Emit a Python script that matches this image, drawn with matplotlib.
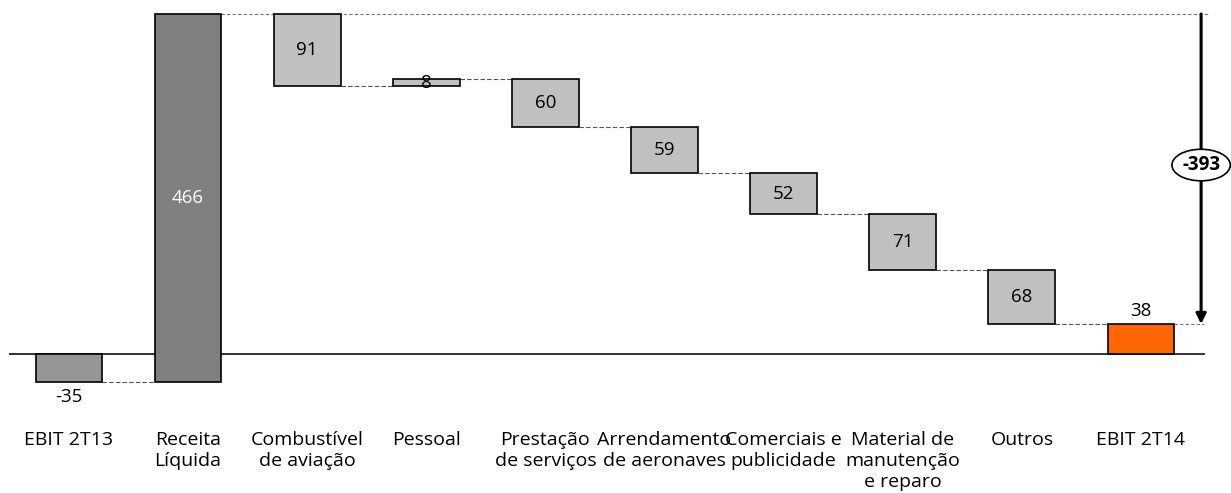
import numpy as np
import matplotlib.pyplot as plt
from matplotlib.patches import Ellipse

plt.rcParams['font.family'] = ['Open Sans', 'DejaVu Sans']

categorias = ["EBIT 2T13", "Receita\nLíquida", "Combustível\nde aviação", "Pessoal",
              "Prestação\nde serviços", "Arrendamento\nde aeronaves", "Comerciais e\npublicidade",
              "Material de\nmanutenção\ne reparo", "Outros", "EBIT 2T14"]
variacao = [-35, 466, -91, 8, -60, -59, -52, -71, -68, 38]
rotulos = ["-35", "466", "91", "8", "60", "59", "52", "71", "68", "38"]
cores = ["#969696", "#808080"] + ["#c0c0c0"] * 7 + ["#ff6600"]
total_var = -393

n = len(variacao)
base = np.zeros(n)
topo = np.zeros(n)
nivel = 0
for i in range(n):
    if i == 0 or i == n - 1:
        base[i] = 0
        topo[i] = variacao[i]
        nivel = variacao[i]
    else:
        base[i] = nivel
        nivel = nivel + variacao[i]
        topo[i] = nivel
fim = topo  # nivel depois de cada passo

fig = plt.figure(figsize=(12.31, 4.93), dpi=100)
ax = fig.add_axes([0, 0, 1, 1])
ax.set_xlim(-0.579, 9.756)
ax.set_ylim(-176.2, 448.7)
ax.axis('off')

fs = 13.5
x = np.arange(n)
w = 0.56
ax.bar(x, topo - base, bottom=base, width=w, color=cores, edgecolor='black', linewidth=1.2, zorder=3)

# linha do zero
ax.plot([-0.495, 9.53], [0, 0], color='#333333', lw=1.4, zorder=2)

# conectores tracejados
for i in range(n - 1):
    if i == 1:
        continue
    ax.plot([x[i] + w / 2, x[i + 1] - w / 2], [fim[i], fim[i]], color='#555555', lw=0.8, dashes=(4, 2), zorder=1)
ax.plot([x[1] + w / 2, 9.56], [fim[1], fim[1]], color='#777777', lw=0.8, dashes=(3, 2), zorder=1)
ax.plot([x[-1] + w / 2, 9.53], [fim[-1], fim[-1]], color='#777777', lw=0.8, dashes=(3, 2), zorder=1)

# rotulos de valores
for i in range(n):
    if i == 0:
        ax.text(x[i], base[i] + variacao[i] - 20, rotulos[i], ha='center', va='center', fontsize=fs)
    elif i == n - 1:
        ax.text(x[i], topo[i] + 17, rotulos[i], ha='center', va='center', fontsize=fs)
    elif i == 1:
        ax.text(x[i], (base[i] + topo[i]) / 2, rotulos[i], ha='center', va='center', fontsize=fs, color='white')
    else:
        ax.text(x[i], (base[i] + topo[i]) / 2, rotulos[i], ha='center', va='center', fontsize=fs)

# categorias
for i in range(n):
    ax.text(x[i], -98, categorias[i], ha='center', va='top', fontsize=14, linespacing=1.22)

# seta da variacao total
xs = 9.505
ax.annotate("", xy=(xs, fim[-1]), xytext=(xs, fim[1]),
            arrowprops=dict(arrowstyle='-|>', color='black', lw=2.2, mutation_scale=15, shrinkA=0, shrinkB=0))
ym = (fim[1] + fim[-1]) / 2 + 5
ax.add_patch(Ellipse((xs, ym), 0.49, 40, facecolor='white', edgecolor='black', lw=1.2, zorder=5))
ax.text(xs, ym, str(total_var), ha='center', va='center', fontsize=fs, fontweight='bold', zorder=6)

plt.savefig('out.png', dpi=100)
